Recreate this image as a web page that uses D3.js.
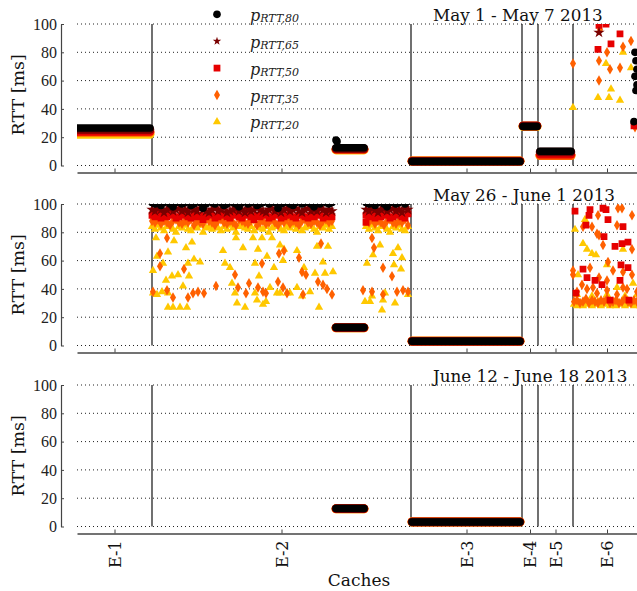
<!DOCTYPE html>
<html>
<head>
<meta charset="utf-8">
<script src="https://cdn.jsdelivr.net/npm/d3@7"></script>
<style>
  body { margin: 0; background: #fff; }
</style>
</head>
<body>
<svg id="chart"></svg>
<script>
// ---- data -------------------------------------------------------------
const caches = ["E-1", "E-2", "E-3", "E-4", "E-5", "E-6"];
// sample index where each cache block starts (last one is the end)
const cacheEdges = [0, 75, 334, 445, 461, 496, 564];
const yTicks = [0, 20, 40, 60, 80, 100];
const percentiles = ["80", "65", "50", "35", "20"];
const weeks = ["May 1 - May 7 2013", "May 26 - June 1 2013", "June 12 - June 18 2013"];

// steady stretches: [first sample, last sample, p80, p65, p50, p35, p20]
const steadyMay1 = [
    [1, 73, 26.5, 25.5, 24, 23.5, 22],
    [259, 287, 12.5, 12, 11.5, 11.5, 11],
    [335, 443, 2.8, 3, 3, 3.3, 3],
    [446, 460, 27.5, 28, 28, 28, 27.5],
    [463, 494, 10, 9.5, 8, 7, 7]
];
const steadyMay26 = [
    [259, 287, 12.7, 12.7, 12.5, 12.5, 12.5],
    [335, 443, 3, 3, 3, 3.2, 3]
];
const steadyJune12 = [
    [259, 287, 12.7, 12.7, 12.5, 12.5, 12.5],
    [335, 443, 3.2, 3.2, 3.2, 3.4, 3.2]
];

// busy stretches of May 26 week, one value per sample: first sample, spacing
const busyMay26E2a = {
    start: 75, step: 3,
    "80": [101, 100, 102, 99, 101, 103, 100, 98, 101, 102, 100, 101, 103, 99, 100, 102, 101, 97, 100, 102,
           101, 100, 103, 101, 99, 100, 102, 101, 100, 98, 101, 103, 100, 101, 102, 99, 100, 101, 103, 100,
           102, 101, 97, 100, 101, 102, 100, 99, 101, 103, 100, 101, 102, 100, 98, 101, 100, 102, 101, 100, 101],
    "65": [96, 95, 97, 96, 94, 96, 97, 95, 96, 97, 95, 96, 94, 97, 96, 95, 97, 96, 95, 94,
           96, 97, 95, 96, 97, 94, 95, 96, 97, 95, 96, 94, 97, 95, 96, 97, 96, 95, 94, 96,
           97, 95, 96, 94, 96, 97, 95, 96, 97, 95, 94, 96, 97, 95, 96, 95, 97, 96, 94, 96, 95],
    "50": [92, 91, 93, 90, 92, 91, 93, 92, 90, 91, 93, 92, 91, 90, 93, 91, 92, 89, 91, 93,
           92, 90, 91, 93, 92, 91, 90, 92, 93, 91, 90, 92, 93, 91, 89, 92, 91, 93, 92, 90,
           91, 93, 92, 90, 91, 92, 93, 91, 90, 92, 93, 91, 90, 92, 91, 93, 92, 90, 91, 92, 91],
    "35": [88, 87, 89, 86, 88, 87, 85, 88, 89, 87, 86, 88, 87, 89, 85, 88, 87, 86, 89, 88,
           87, 85, 88, 89, 87, 86, 88, 87, 85, 89, 88, 87, 86, 88, 89, 85, 87, 88, 86, 87,
           89, 87, 85, 88, 87, 89, 86, 88, 87, 85, 88, 89, 87, 86, 88, 87, 85, 88, 89, 87, 88],
    "20": [84, 82, 85, 83, 81, 84, 85, 82, 80, 84, 83, 85, 82, 81, 84, 83, 85, 80, 83, 84,
           82, 85, 83, 81, 84, 82, 85, 83, 80, 84, 85, 83, 82, 84, 81, 85, 83, 82, 84, 80,
           83, 85, 84, 82, 81, 84, 83, 85, 82, 84, 81, 83, 85, 84, 82, 80, 84, 83, 85, 82, 84]
};
const busyMay26E2b = {
    start: 289, step: 3,
    "80": [101, 100, 102, 99, 101, 103, 100, 98, 101, 102, 100, 101, 103, 100, 102],
    "65": [96, 95, 97, 96, 94, 96, 97, 95, 96, 97, 95, 96, 94, 97, 96],
    "50": [92, 91, 93, 90, 92, 91, 93, 92, 90, 91, 93, 92, 91, 90, 93],
    "35": [88, 87, 89, 86, 88, 87, 85, 88, 89, 87, 86, 88, 87, 89, 85],
    "20": [84, 82, 85, 83, 81, 84, 85, 82, 80, 84, 83, 85, 82, 81, 84]
};
const busyMay26E6 = {
    start: 497, step: 3,
    "35": [31, 32, 30, 31, 33, 30, 32, 31, 30, 32, 31, 33, 30, 31, 32, 30, 31, 33, 31, 30, 32, 31, 30],
    "20": [29, 28, 30, 28, 29, 30, 28, 29, 31, 28, 29, 30, 28, 29, 28, 30, 29, 28, 29, 30, 28, 29, 28]
};

// single samples: [sample, RTT]
const pointsMay1 = {
    "80": [[259, 18], [260, 17], [558, 80], [559, 74], [560, 68], [558, 63], [560, 57], [559, 53], [557, 31]],
    "65": [[522, 94]],
    "50": [[522, 99], [529, 100], [543, 93], [534, 86], [521, 82], [557, 28]],
    "35": [[496, 72], [530, 80], [546, 84], [554, 88], [522, 74], [533, 68], [543, 69], [522, 60], [523, 96], [558, 27]],
    "20": [[496, 41], [529, 72], [546, 80], [534, 54], [521, 48], [532, 48], [543, 46], [554, 69]]
};
const pointsMay26 = {
    "50": [[289, 87], [498, 95], [513, 96], [512, 92], [526, 97], [529, 96], [531, 89], [509, 85], [546, 84],
           [527, 77], [538, 70], [545, 72], [551, 73], [544, 57], [551, 55], [506, 54], [510, 48], [518, 46],
           [525, 43], [543, 46], [499, 37], [533, 32], [552, 32]],
    "35": [[90, 76], [83, 65], [83, 56], [107, 54], [76, 38], [90, 39], [96, 34], [111, 34], [116, 37], [121, 38],
           [127, 37], [139, 42], [158, 50], [161, 41], [169, 37], [172, 44], [185, 58], [181, 41], [186, 38],
           [189, 37], [202, 65], [207, 67], [201, 45], [206, 41], [210, 37], [222, 62], [225, 52], [229, 50],
           [226, 36], [244, 72], [241, 45], [246, 43], [250, 40], [255, 36],
           [295, 76], [297, 69], [306, 55], [315, 49], [320, 38], [326, 39], [331, 38], [286, 39], [295, 38], [306, 36],
           [545, 97], [555, 92], [515, 84], [522, 78], [540, 85], [555, 68], [520, 79], [526, 71], [531, 59],
           [513, 55], [496, 50], [522, 48], [530, 46], [536, 53], [555, 50], [546, 52], [505, 43], [516, 41],
           [546, 41], [541, 97], [521, 92], [506, 84], [496, 53], [500, 38], [510, 40], [520, 37], [530, 39],
           [540, 36], [550, 40], [560, 38]],
    "20": [[79, 76], [80, 63], [76, 53], [86, 58], [91, 66], [97, 74], [109, 69], [115, 73], [117, 61], [123, 59],
           [111, 58], [101, 50], [95, 49], [89, 46], [112, 49], [76, 37], [80, 36], [85, 38], [91, 27], [96, 27],
           [103, 27], [110, 27], [106, 42], [91, 37], [148, 58], [146, 67], [153, 55], [166, 69], [159, 76],
           [176, 76], [181, 68], [178, 58], [182, 49], [190, 63], [185, 76], [195, 76], [155, 44], [160, 30],
           [168, 27], [180, 32], [186, 29], [189, 31], [197, 55], [206, 60], [207, 68], [203, 71], [220, 67],
           [227, 55], [238, 51], [246, 59], [248, 51], [256, 52], [251, 70], [240, 70], [242, 27], [233, 38],
           [220, 41], [225, 35], [200, 37], [210, 37], [213, 37], [193, 41], [158, 37], [178, 37], [203, 37],
           [303, 71], [321, 69], [290, 58], [296, 64], [316, 65], [325, 62], [317, 57], [324, 54], [295, 35],
           [288, 31], [293, 31], [308, 37], [306, 32], [305, 25], [318, 30], [331, 36],
           [498, 82], [508, 89], [506, 72], [515, 65], [519, 64], [546, 68], [530, 57], [501, 50], [556, 44],
           [540, 41], [510, 68], [500, 36], [515, 35], [530, 36], [548, 35], [560, 36]]
};

// ---- layout -----------------------------------------------------------
const width = 637, height = 591;
const plotLeft = 77, plotRight = 641;
const panelTops = [24, 204, 385];
const panelH = 141.5;

const seriesStyle = {
    "80": {color: "#000000", symbol: d3.symbolCircle,   size: 46, run: 7.5},
    "65": {color: "#7a0000", symbol: d3.symbolStar,     size: 40, run: 8.5},
    "50": {color: "#e60000", symbol: d3.symbolSquare,   size: 46, run: 8.5},
    "35": {color: "#ff6000", symbol: d3.symbolDiamond,  size: 32, run: 9},
    "20": {color: "#ffc800", symbol: d3.symbolTriangle, size: 30, run: 9}
};

const svg = d3.select("#chart")
    .attr("width", width)
    .attr("height", height)
    .style("font-family", "DejaVu Serif");

const x = d3.scaleLinear()
    .domain([cacheEdges[0], cacheEdges[cacheEdges.length - 1]])
    .range([plotLeft, plotRight]);

const cacheCenters = caches.map((c, i) => (cacheEdges[i] + cacheEdges[i + 1]) / 2);

const panels = [
    {title: weeks[0], steady: steadyMay1, busy: [], points: pointsMay1},
    {title: weeks[1], steady: steadyMay26, busy: [busyMay26E2a, busyMay26E2b, busyMay26E6], points: pointsMay26},
    {title: weeks[2], steady: steadyJune12, busy: [], points: {}}
];

panels.forEach((panel, pi) => {
    const top = panelTops[pi];
    const y = d3.scaleLinear().domain([0, 100]).range([top + panelH, top]);
    const g = svg.append("g");

    // dotted grid
    g.selectAll(".grid")
        .data(yTicks)
        .join("line")
            .attr("x1", plotLeft)
            .attr("x2", width)
            .attr("y1", d => y(d))
            .attr("y2", d => y(d))
            .style("stroke", "#222")
            .style("stroke-width", 1)
            .style("stroke-dasharray", "1,3");

    // y axis, detached from the plot
    const yAxis = g.append("g")
        .attr("transform", "translate(61,0)")
        .call(d3.axisLeft(y).tickValues(yTicks).tickSize(-3).tickSizeOuter(0).tickPadding(4));
    yAxis.select(".domain").style("stroke", "#444").style("stroke-width", 1.2);
    yAxis.selectAll(".tick line").style("stroke", "#444");
    yAxis.selectAll(".tick text")
        .style("font-family", "Liberation Serif")
        .style("font-size", "16px")
        .attr("fill", "#222");

    g.append("text")
        .attr("transform", "translate(23.5," + (top + panelH / 2) + ") rotate(-90)")
        .attr("text-anchor", "middle")
        .style("font-size", "17.5px")
        .attr("fill", "#111")
        .text("RTT [ms]");

    // x axis below the plot
    const xAxis = g.append("g")
        .attr("transform", "translate(0," + (top + panelH + 7) + ")")
        .call(d3.axisBottom(x).tickValues(cacheCenters).tickSize(-4).tickSizeOuter(0)
              .tickFormat((d, i) => pi === 2 ? caches[i] : ""));
    xAxis.select(".domain").style("stroke", "#444").style("stroke-width", 1.5);
    xAxis.selectAll(".tick line").style("stroke", "#444");
    xAxis.selectAll(".tick text")
        .attr("text-anchor", "end")
        .attr("transform", "translate(0,7) rotate(-90)")
        .attr("x", 0)
        .attr("y", 0)
        .attr("dy", "0.35em")
        .style("font-family", "DejaVu Serif")
        .style("font-size", "16px")
        .attr("fill", "#111");

    // cache separators
    g.selectAll(".sep")
        .data(cacheEdges.slice(1, -1))
        .join("line")
            .attr("x1", d => x(d))
            .attr("x2", d => x(d))
            .attr("y1", y(100))
            .attr("y2", y(0))
            .style("stroke", "#111")
            .style("stroke-width", 1.2);

    // week title
    g.append("text")
        .attr("x", 433)
        .attr("y", top - 3)
        .style("font-size", "16.8px")
        .attr("fill", "#111")
        .text(panel.title);

    // plotting area clipped at the axes box
    const clipId = "clip" + pi;
    svg.append("clipPath").attr("id", clipId)
        .append("rect")
            .attr("x", plotLeft)
            .attr("y", y(100))
            .attr("width", width - plotLeft)
            .attr("height", panelH + 10);
    const plot = g.append("g").attr("clip-path", "url(#" + clipId + ")");

    // lowest percentile first, so p80 ends on top
    percentiles.slice().reverse().forEach(p => {
        const st = seriesStyle[p];
        const k = percentiles.indexOf(p);
        plot.append("g").selectAll("line")
            .data(panel.steady)
            .join("line")
                .attr("x1", d => x(d[0]))
                .attr("x2", d => x(d[1]))
                .attr("y1", d => y(d[2 + k]))
                .attr("y2", d => y(d[2 + k]))
                .style("stroke", st.color)
                .style("stroke-width", st.run)
                .style("stroke-linecap", "round");
        let pts = (panel.points[p] || []).slice();
        panel.busy.forEach(b => {
            (b[p] || []).forEach((v, i) => pts.push([b.start + i * b.step, v]));
        });
        plot.append("g").selectAll("path")
            .data(pts)
            .join("path")
                .attr("transform", d => "translate(" + x(d[0]) + "," + y(d[1]) + ")")
                .attr("d", d3.symbol().type(st.symbol).size(st.size))
                .attr("fill", st.color);
    });
});

// legend (no frame) in the first panel
const legend = svg.append("g");
percentiles.forEach((p, i) => {
    const st = seriesStyle[p];
    const ry = 14.3 + i * 26.9;
    legend.append("path")
        .attr("transform", "translate(217," + ry + ")")
        .attr("d", d3.symbol().type(st.symbol).size(p === "65" ? 22 : st.size))
        .attr("fill", st.color);
    const t = legend.append("text")
        .attr("x", 250)
        .attr("y", ry + 6.5)
        .style("font-style", "italic")
        .style("font-size", "16px")
        .attr("fill", "#222");
    t.append("tspan").text("p");
    t.append("tspan").attr("dy", 1).style("font-size", "11px").text("RTT," + p);
});

svg.append("text")
    .attr("x", 359)
    .attr("y", 586)
    .attr("text-anchor", "middle")
    .style("font-size", "17px")
    .attr("fill", "#111")
    .text("Caches");
</script>
</body>
</html>
